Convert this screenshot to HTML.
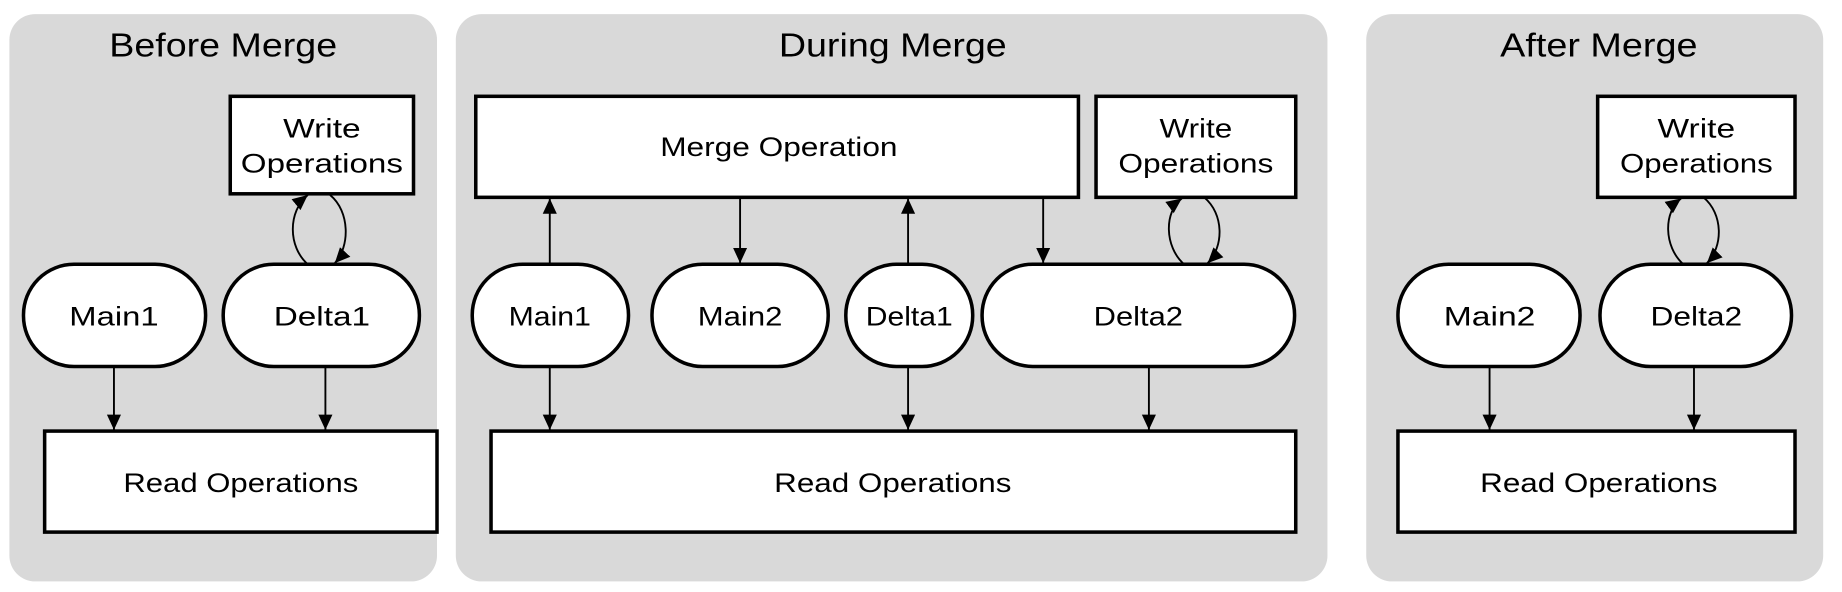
<!DOCTYPE html>
<html><head><meta charset="utf-8"><style>
html,body{margin:0;padding:0;background:#fff;}
svg{display:block;}
text{font-family:"Liberation Sans",Arial,sans-serif;fill:#000;text-anchor:middle;}
</style></head><body>
<svg width="1842" height="592" viewBox="0 0 1568 504" preserveAspectRatio="none" xmlns="http://www.w3.org/2000/svg">
<defs>
<marker id="a" markerWidth="14" markerHeight="14" refX="13" refY="6" orient="auto" markerUnits="userSpaceOnUse">
<path d="M0,0 L13,6 L0,12 z" fill="#000"/></marker>
</defs>
<g fill="#d9d9d9">
<rect x="8" y="12" width="364" height="483" rx="22"/>
<rect x="388" y="12" width="742" height="483" rx="22"/>
<rect x="1163" y="12" width="389" height="483" rx="22"/>
</g>
<g font-size="28">
<text x="190" y="48" textLength="194" lengthAdjust="spacingAndGlyphs">Before Merge</text>
<text x="760" y="48" textLength="194" lengthAdjust="spacingAndGlyphs">During Merge</text>
<text x="1361" y="48" textLength="168" lengthAdjust="spacingAndGlyphs">After Merge</text>
</g>

<g fill="#fff" stroke="#000" stroke-width="3">
<rect x="196" y="82" width="156" height="83"/>
<rect x="20" y="225" width="155" height="87" rx="43"/>
<rect x="190" y="225" width="167" height="87" rx="43"/>
<rect x="38" y="367" width="334" height="86"/>
<rect x="405" y="82" width="513" height="86"/>
<rect x="933" y="82" width="170" height="86"/>
<rect x="402" y="225" width="133" height="87" rx="43"/>
<rect x="555" y="225" width="150" height="87" rx="43"/>
<rect x="720" y="225" width="108" height="87" rx="43"/>
<rect x="836" y="225" width="266" height="87" rx="43"/>
<rect x="418" y="367" width="685" height="86"/>
<rect x="1360" y="82" width="168" height="86"/>
<rect x="1190" y="225" width="155" height="87" rx="43"/>
<rect x="1362" y="225" width="163" height="87" rx="43"/>
<rect x="1190" y="367" width="338" height="86"/>
</g>

<g font-size="23">
<text x="274" y="117" textLength="66" lengthAdjust="spacingAndGlyphs">Write</text>
<text x="274" y="147" textLength="138" lengthAdjust="spacingAndGlyphs">Operations</text>
<text x="97" y="277" textLength="76" lengthAdjust="spacingAndGlyphs">Main1</text>
<text x="274" y="277" textLength="82" lengthAdjust="spacingAndGlyphs">Delta1</text>
<text x="205" y="419" textLength="200" lengthAdjust="spacingAndGlyphs">Read Operations</text>
<text x="1444" y="117" textLength="66" lengthAdjust="spacingAndGlyphs">Write</text>
<text x="1444" y="147" textLength="130" lengthAdjust="spacingAndGlyphs">Operations</text>
<text x="1268" y="277" textLength="78" lengthAdjust="spacingAndGlyphs">Main2</text>
<text x="1444" y="277" textLength="78" lengthAdjust="spacingAndGlyphs">Delta2</text>
<text x="1361" y="419" textLength="202" lengthAdjust="spacingAndGlyphs">Read Operations</text>

<text x="663" y="133" textLength="202" lengthAdjust="spacingAndGlyphs">Merge Operation</text>
<text x="1018" y="117" textLength="62" lengthAdjust="spacingAndGlyphs">Write</text>
<text x="1018" y="147" textLength="132" lengthAdjust="spacingAndGlyphs">Operations</text>
<text x="468" y="277" textLength="70" lengthAdjust="spacingAndGlyphs">Main1</text>
<text x="630" y="277" textLength="72" lengthAdjust="spacingAndGlyphs">Main2</text>
<text x="774" y="277" textLength="74" lengthAdjust="spacingAndGlyphs">Delta1</text>
<text x="969" y="277" textLength="76" lengthAdjust="spacingAndGlyphs">Delta2</text>
<text x="760" y="419" textLength="202" lengthAdjust="spacingAndGlyphs">Read Operations</text>
</g>

<g stroke="#000" stroke-width="1.6" fill="none" marker-end="url(#a)">
<line x1="97" y1="312" x2="97" y2="366"/>
<line x1="277" y1="312" x2="277" y2="366"/>
<path d="M262,225 C245,210 245,180 262,166"/>
<path d="M281,166 C298,180 298,210 285,224"/>
<line x1="468" y1="225" x2="468" y2="169"/>
<line x1="630" y1="168" x2="630" y2="224"/>
<line x1="773" y1="225" x2="773" y2="169"/>
<line x1="888" y1="168" x2="888" y2="224"/>
<path d="M1008,225 C991,210 991,180 1006,169"/>
<path d="M1025,168 C1042,182 1042,210 1028,224"/>
<line x1="468" y1="312" x2="468" y2="366"/>
<line x1="773" y1="312" x2="773" y2="366"/>
<line x1="978" y1="312" x2="978" y2="366"/>
<path d="M1433,225 C1416,210 1416,180 1431,169"/>
<path d="M1450,168 C1467,182 1467,210 1453,224"/>
<line x1="1268" y1="312" x2="1268" y2="366"/>
<line x1="1442" y1="312" x2="1442" y2="366"/>
</g>
</svg>
</body></html>
